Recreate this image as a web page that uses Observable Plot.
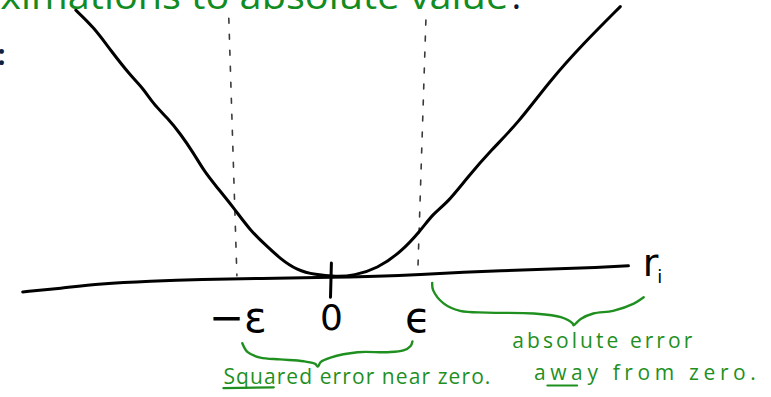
<!DOCTYPE html>
<html>
<head>
<meta charset="utf-8">
<script src="https://cdn.jsdelivr.net/npm/d3@7"></script>
<script src="https://cdn.jsdelivr.net/npm/@observablehq/plot@0.6"></script>
<style>
  body { margin: 0; background: #fff; overflow: hidden; }
</style>
</head>
<body>
<div id="chart"></div>
<script>
// Hand-drawn Huber loss: residual r_i across, loss up; epsilon is one unit.
const curveR = [-2.83, -2.63, -2.44, -2.22, -2.08, -1.97, -1.81, -1.67, -1.52, -1.41, -1.26, -1.08, -0.89, -0.72, -0.56, -0.37, -0.17, 0.06, 0.26, 0.52, 0.78, 1.00, 1.14, 1.30, 1.52, 1.78, 2.08, 2.44, 2.81, 3.22];
const curveL = [2.97, 2.78, 2.52, 2.24, 2.10, 1.93, 1.77, 1.60, 1.38, 1.19, 1.00, 0.78, 0.52, 0.36, 0.21, 0.08, 0.03, 0.01, 0.02, 0.10, 0.28, 0.52, 0.71, 0.83, 1.11, 1.41, 1.71, 2.19, 2.60, 3.01];

// the r_i axis, drawn freehand
const axisR = [-3.42, -3.00, -2.56, -2.00, -1.44, -0.78, 0.00, 0.78, 1.44, 2.33, 3.00, 3.31];
const axisL = [-0.16, -0.12, -0.07, -0.04, -0.02, -0.01, 0.00, 0.02, 0.06, 0.09, 0.11, 0.13];

// dashed guides at -epsilon and +epsilon (top end, bottom end)
const guideSide = ["neg", "neg", "pos", "pos"];
const guideR = [-1.13, -1.04, 1.06, 0.97];
const guideL = [2.88, 0.02, 2.86, 0.06];

// tick at zero
const tickR = [0.01, 0.00];
const tickL = [0.16, -0.22];

// tick labels
const tickLabels = ["−ε", "0", "ϵ"];
const tickLabelR = [-1.03, 0.01, 0.97];
const tickLabelL = [-0.46, -0.46, -0.46];

// braces under the axis
const braceName = [
  "near", "near", "near", "near", "near", "near", "near", "near", "near", "near", "near", "near", "near", "near",
  "away", "away", "away", "away", "away", "away", "away", "away", "away", "away", "away", "away", "away", "away"
];
const braceR = [
  -0.98, -0.92, -0.78, -0.56, -0.30, -0.17, -0.14, -0.11, 0.00, 0.30, 0.63, 0.81, 0.89, 0.91,
  1.13, 1.14, 1.26, 1.44, 1.74, 2.26, 2.56, 2.69, 2.70, 2.78, 2.92, 3.14, 3.37, 3.48
];
const braceL = [
  -0.73, -0.83, -0.89, -0.91, -0.93, -0.96, -0.99, -0.94, -0.89, -0.83, -0.83, -0.81, -0.76, -0.71,
  -0.06, -0.14, -0.29, -0.37, -0.39, -0.40, -0.44, -0.51, -0.53, -0.46, -0.40, -0.37, -0.29, -0.22
];

// handwritten notes
const notes = ["Squared error near zero.", "absolute error", "away from zero."];
const noteR = [-1.19, 2.02, 2.26];
const noteL = [-1.18, -0.78, -1.14];

// underlines under "Squa(red)" and "(a)wa(y)"
const underlineWord = ["squared", "squared", "away", "away"];
const underlineR = [-1.19, -0.63, 2.41, 2.74];
const underlineL = [-1.23, -1.22, -1.20, -1.20];

// slide text around the sketch
const slideTitle = "ximations to absolute value";
const green = "#1f901f";

const curve = curveR.map((r, i) => ({r, loss: curveL[i]}));
const axisLine = axisR.map((r, i) => ({r, loss: axisL[i]}));
const guides = guideR.map((r, i) => ({r, loss: guideL[i], side: guideSide[i]}));
const tick = tickR.map((r, i) => ({r, loss: tickL[i]}));
const labels = tickLabels.map((t, i) => ({t, r: tickLabelR[i], loss: tickLabelL[i]}));
const braces = braceR.map((r, i) => ({r, loss: braceL[i], name: braceName[i]}));
const noteRows = notes.map((t, i) => ({t, r: noteR[i], loss: noteL[i]}));
const underlines = underlineR.map((r, i) => ({r, loss: underlineL[i], word: underlineWord[i]}));

const W = 771, H = 397;
const chart = Plot.plot({
  width: W,
  height: H,
  margin: 0,
  x: {domain: [-330 / 90, (W - 330) / 90], axis: null},
  y: {domain: [(277 - H) / 90, 277 / 90], axis: null},
  style: {background: "#fff"},
  marks: [
    Plot.line(guides, {x: "r", y: "loss", z: "side", stroke: "#3a3a3a", strokeWidth: 1.6, strokeDasharray: "5,11"}),
    Plot.line(axisLine, {x: "r", y: "loss", stroke: "#000", strokeWidth: 3, curve: "basis"}),
    Plot.line(curve, {x: "r", y: "loss", stroke: "#000", strokeWidth: 3, curve: "basis"}),
    Plot.line(tick, {x: "r", y: "loss", stroke: "#000", strokeWidth: 3}),
    Plot.text(labels.filter(d => d.t === "0"), {x: "r", y: "loss", text: "t", fontSize: 36, fontFamily: "DejaVu Sans", fill: "#000"}),
    Plot.text(labels.filter(d => d.t !== "0"), {x: "r", y: "loss", text: "t", fontSize: 42, fontFamily: "DejaVu Sans", fill: "#000"}),
    Plot.text(["r"], {x: [3.47], y: [0.02], text: d => d, textAnchor: "start", lineAnchor: "bottom", fontSize: 38, fontFamily: "DejaVu Sans", fill: "#000"}),
    Plot.text(["i"], {x: [3.63], y: [-0.06], text: d => d, textAnchor: "start", lineAnchor: "bottom", fontSize: 18, fontFamily: "DejaVu Sans", fill: "#000"}),
    Plot.line(braces, {x: "r", y: "loss", z: "name", stroke: green, strokeWidth: 2.4, curve: "catmull-rom"}),
    Plot.line(underlines, {x: "r", y: "loss", z: "word", stroke: green, strokeWidth: 2.2}),
    Plot.text(noteRows, {x: "r", y: "loss", text: "t", textAnchor: "start", lineAnchor: "bottom", fontSize: 21, fontFamily: "Open Sans", fill: green}),
    Plot.text([slideTitle], {x: [-3.67], y: [2.98], text: d => d, textAnchor: "start", lineAnchor: "bottom", fontSize: 37, fontFamily: "Open Sans", fill: "#128c22"}),
    Plot.text(["."], {x: [2.01], y: [2.98], text: d => d, textAnchor: "start", lineAnchor: "bottom", fontSize: 37, fontFamily: "Open Sans", fill: "#0d1830"}),
    Plot.text([":"], {x: [-3.70], y: [2.36], text: d => d, textAnchor: "start", lineAnchor: "bottom", fontSize: 28, fontFamily: "Open Sans", fontWeight: "bold", fill: "#102040"})
  ]
});

// spread the handwritten notes and the slide line over the width they take
const textWidths = {
  "Squared error near zero.": [267, "spacing"],
  "absolute error": [180, "spacing"],
  "away from zero.": [222, "spacing"],
  [slideTitle]: [508, "spacingAndGlyphs"]
};
d3.select(chart).selectAll("text").each(function () {
  const w = textWidths[this.textContent];
  if (w) d3.select(this).attr("textLength", w[0]).attr("lengthAdjust", w[1]);
});

document.getElementById("chart").append(chart);
</script>
</body>
</html>
